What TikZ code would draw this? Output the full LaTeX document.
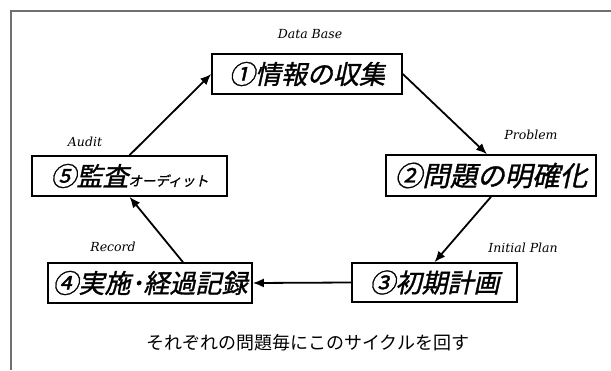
\documentclass[tikz,border=0pt]{standalone}
\usepackage{fontspec}
\usetikzlibrary{arrows.meta}
\newfontfamily\jpbox{Noto Sans CJK JP}[FakeSlant=0.22,FakeBold=1.2]
\newfontfamily\jpreg{Noto Sans CJK JP}
\newfontfamily\lblfont{DejaVu Serif}
\definecolor{framegray}{HTML}{707070}
\begin{document}
\begin{tikzpicture}[x=1pt,y=-1pt,
  box/.style={draw=black, line width=1.6pt, inner sep=0pt, align=center,
    font=\jpbox\fontsize{26}{28}\selectfont},
  lbl/.style={font=\lblfont\itshape\fontsize{12.5}{15}\selectfont},
  arr/.style={draw=black, line width=1.8pt, -{Latex[length=11pt,width=9pt]}}]
\useasboundingbox (0,0) rectangle (611,370);
\draw[framegray, line width=1.2pt] (11,370) -- (11,11) -- (611,11);

\node[box, minimum width=190pt, minimum height=40pt] (b1) at (307,74) {①情報の収集};
\node[box, minimum width=210pt, minimum height=41pt] (b2) at (491,175.5) {\fontsize{27.5}{29}\selectfont ②問題の明確化};
\node[box, minimum width=165pt, minimum height=39pt] (b3) at (434.5,282.5) {③初期計画};
\node[box, minimum width=204pt, minimum height=40pt] (b4) at (150,283) {④実施･経過記録};
\node[box, minimum width=195pt, minimum height=40pt] (b5) at (129.5,176) {⑤監査{\fontsize{13.5}{14}\selectfont オーディット}};

\node[lbl] (l1) at (310,34) {Data Base};
\node[lbl] (l2) at (531,135) {Problem};
\node[lbl] (l3) at (523,248) {Initial Plan};
\node[lbl] (l4) at (113,247) {Record};
\node[lbl] (l5) at (85,142) {Audit};

\node[font=\jpreg\fontsize{18}{20}\selectfont] (cap) at (308,343) {それぞれの問題毎にこのサイクルを回す};

\draw[arr] (b1.east) -- ([xshift=-4pt]b2.north);
\draw[arr] (b2.south) -- (b3.north);
\draw[arr] (b3.west) -- (b4.east);
\draw[arr] ([xshift=33pt]b4.north) -- (b5.south);
\draw[arr] (b5.north) -- (b1.west);
\end{tikzpicture}
\end{document}
